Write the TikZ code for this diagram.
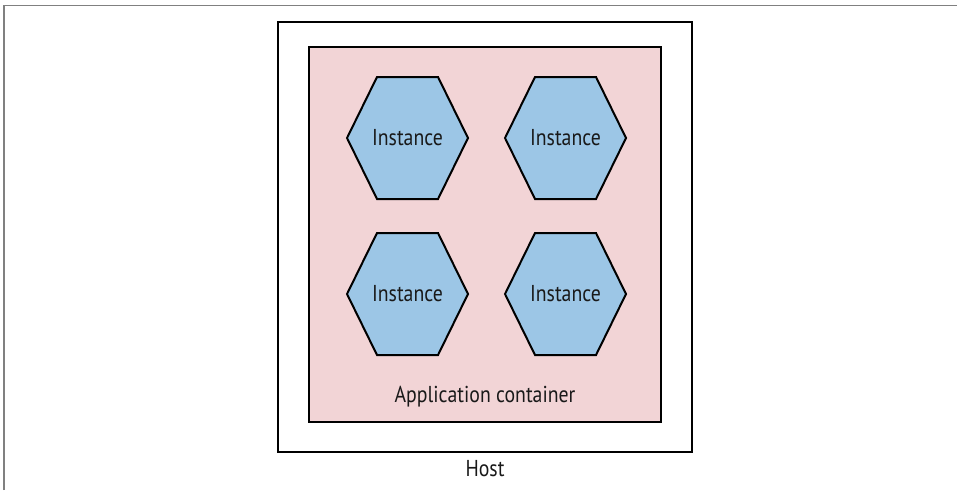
\documentclass[tikz,border=0pt]{standalone}
\usepackage{fontspec}
\setmainfont{PT Sans}[FakeStretch=0.86]
\usetikzlibrary{calc}
\definecolor{HostClr}{rgb}{1,1,1}
\definecolor{BoxClr}{RGB}{242,212,214}
\definecolor{HexClr}{RGB}{156,198,230}
\definecolor{FrameClr}{RGB}{128,128,128}

% one instance: hexagon round a named text node
\newcommand{\InstHex}[3]{%
  \coordinate (#1) at (#2,#3);
  \filldraw[hexline] ($(#1)+(-60.5,0)$) -- ($(#1)+(-30.5,-61)$) -- ($(#1)+(30.5,-61)$)
    -- ($(#1)+(60.5,0)$) -- ($(#1)+(30.5,61)$) -- ($(#1)+(-30.5,61)$) -- cycle;
  \node[lbl] (#1-txt) at (#1) {Instance};
}

\begin{document}
\begin{tikzpicture}[x=1pt,y=-1pt,
  lbl/.style={font=\fontsize{23}{25}\selectfont,inner sep=0pt,text=black!90},
  hexline/.style={line width=2pt,draw=black,fill=HexClr,line join=miter},
  boxline/.style={line width=2pt,draw=black}]
\useasboundingbox (0,0) rectangle (957,490);

\draw[FrameClr,line width=1.6pt] (4,490) -- (4,5.5) -- (957,5.5);

\node[boxline,fill=HostClr,minimum width=414pt,minimum height=430pt,inner sep=0pt,anchor=north west] (host) at (277,21) {};
\node[boxline,fill=BoxClr,minimum width=352pt,minimum height=375pt,inner sep=0pt,anchor=north west] (app) at (308,46) {};

\InstHex{i1}{407.5}{138}
\InstHex{i2}{565.5}{138}
\InstHex{i3}{407.5}{294}
\InstHex{i4}{565.5}{294}

\node[lbl] (applbl) at ($(app.south)+(0,-26)$) {Application container};
\node[lbl] (hostlbl) at ($(host.south)+(0,16)$) {Host};

\end{tikzpicture}
\end{document}
